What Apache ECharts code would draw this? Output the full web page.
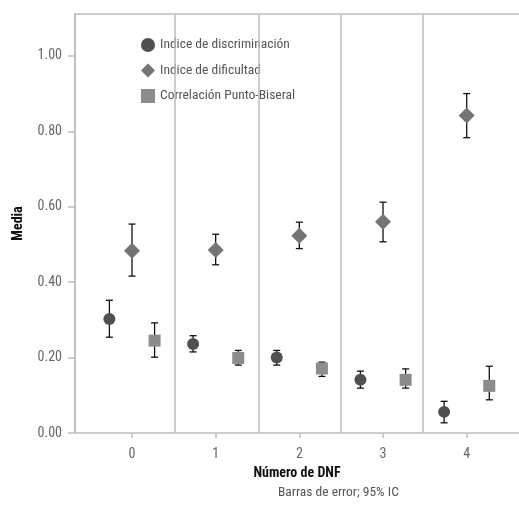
<!DOCTYPE html>
<html><head><meta charset="utf-8">
<script src="https://cdn.jsdelivr.net/npm/echarts@6/dist/echarts.min.js"></script>
<style>html,body{margin:0;padding:0;background:#fff}#c{width:519px;height:505px}</style>
</head><body><div id="c"></div>
<script>
const categories = [0, 1, 2, 3, 4];
const seriesNames = ['Indice de discriminación', 'Indice de dificultad', 'Correlación Punto-Biseral'];
const discMean = [0.302, 0.236, 0.200, 0.141, 0.056];
const discLow  = [0.254, 0.215, 0.180, 0.119, 0.027];
const discHigh = [0.352, 0.258, 0.219, 0.164, 0.084];
const difMean = [0.483, 0.485, 0.523, 0.560, 0.842];
const difLow  = [0.416, 0.446, 0.489, 0.507, 0.783];
const difHigh = [0.554, 0.527, 0.559, 0.612, 0.900];
const pbMean = [0.245, 0.199, 0.171, 0.141, 0.125];
const pbLow  = [0.201, 0.180, 0.150, 0.119, 0.088];
const pbHigh = [0.292, 0.219, 0.188, 0.170, 0.177];
const yTicks = [0, 0.2, 0.4, 0.6, 0.8, 1.0];
const dividers = [0.51, 1.52, 2.50, 3.47];

const FONT = '"Liberation Sans Narrow", "Roboto Condensed", "Arial Narrow", sans-serif';
const X_MIN = -0.681, X_MAX = 4.625;
const offsets = [-0.27, 0, 0.27];
const colors = ['#505050', '#747474', '#8c8c8c'];
const symbols = ['circle', 'diamond', 'rect'];
const sizes = [12, 16, 12];
const means = [discMean, difMean, pbMean];
const lows = [discLow, difLow, pbLow];
const highs = [discHigh, difHigh, pbHigh];
const FRAME = {color: '#bdbdbd', width: 1.5, type: 'solid'};

const series = [];
means.forEach((m, s) => {
  series.push({
    type: 'custom', z: 2, silent: true,
    data: categories.map((c, i) => [c + offsets[s], lows[s][i], highs[s][i]]),
    renderItem: (params, api) => {
      const lo = api.coord([api.value(0), api.value(1)]);
      const hi = api.coord([api.value(0), api.value(2)]);
      const w = 3.5;
      const st = {stroke: '#111', lineWidth: 1.3};
      return {type: 'group', children: [
        {type: 'line', shape: {x1: lo[0], y1: lo[1], x2: hi[0], y2: hi[1]}, style: st},
        {type: 'line', shape: {x1: lo[0]-w, y1: lo[1], x2: lo[0]+w, y2: lo[1]}, style: st},
        {type: 'line', shape: {x1: hi[0]-w, y1: hi[1], x2: hi[0]+w, y2: hi[1]}, style: st}
      ]};
    }
  });
});
means.forEach((m, s) => {
  series.push({
    name: seriesNames[s], type: 'scatter', z: 5,
    symbol: symbols[s], symbolSize: sizes[s],
    itemStyle: {color: colors[s], opacity: 1},
    data: categories.map((c, i) => [c + offsets[s], m[i]])
  });
});
series.push({
  type: 'line', data: [], silent: true,
  markLine: {symbol: 'none', silent: true, label: {show: false},
    lineStyle: FRAME,
    data: [{xAxis: X_MIN}].concat(dividers.map(d => ({xAxis: d})))}
});

const chart = echarts.init(document.getElementById('c'), null, {renderer: 'canvas'});
chart.setOption({
  animation: false,
  grid: {left: 75, right: 0, top: 14, bottom: 72, containLabel: false},
  legend: {
    orient: 'vertical', left: 136, top: 33, itemGap: 11.5,
    itemWidth: 14, itemHeight: 14,
    data: seriesNames.map((n, s) => ({name: n, icon: symbols[s], itemStyle: {color: colors[s]}})),
    textStyle: {fontFamily: FONT, fontSize: 13.5, color: '#555'}
  },
  xAxis: [{
    type: 'value', min: X_MIN, max: X_MAX, position: 'bottom',
    splitLine: {show: false},
    axisLine: {show: true, onZero: false, lineStyle: FRAME},
    axisTick: {show: true, length: 5, customValues: categories, lineStyle: FRAME},
    axisLabel: {customValues: categories, fontFamily: FONT, fontSize: 14, color: '#666', margin: 14},
    name: 'Número de DNF', nameLocation: 'middle', nameGap: 33,
    nameTextStyle: {fontFamily: FONT, fontSize: 14, fontWeight: 'bold', color: '#111'}
  }, {
    type: 'value', min: X_MIN, max: X_MAX, position: 'top',
    splitLine: {show: false}, axisTick: {show: false}, axisLabel: {show: false},
    axisLine: {show: true, onZero: false, lineStyle: FRAME}
  }],
  yAxis: {
    type: 'value', min: 0, max: 1.111, position: 'left',
    splitLine: {show: false},
    axisLine: {show: true, onZero: false, lineStyle: FRAME},
    axisTick: {show: true, length: 7, customValues: yTicks, lineStyle: FRAME},
    axisLabel: {customValues: yTicks, formatter: v => v.toFixed(2), fontFamily: FONT, fontSize: 14, color: '#666', margin: 13},
    name: 'Media', nameLocation: 'middle', nameGap: 50, nameRotate: 90,
    nameTextStyle: {fontFamily: FONT, fontSize: 14, fontWeight: 'bold', color: '#111'}
  },
  graphic: [{
    type: 'text', left: 278, top: 486,
    style: {text: 'Barras de error; 95% IC', font: '13.5px ' + FONT, fill: '#555'}
  }],
  series: series
});
</script></body></html>
